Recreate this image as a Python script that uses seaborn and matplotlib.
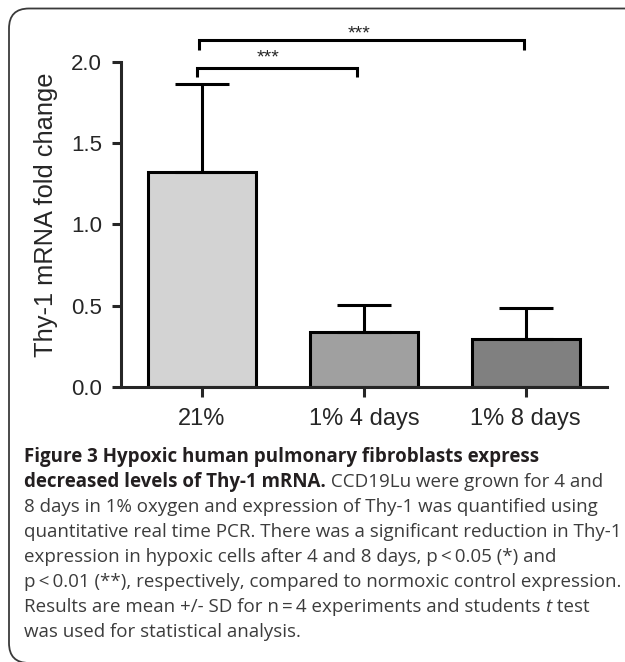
import matplotlib
matplotlib.use("Agg")
import matplotlib.pyplot as plt
import pandas as pd
import seaborn as sns
from matplotlib.path import Path
from matplotlib.patches import PathPatch

# values
groups = ["21%", "1% 4 days", "1% 8 days"]
means = [1.326, 0.337, 0.296]
sds = [0.542, 0.168, 0.187]
bar_colors = ["#d3d3d3", "#a0a0a0", "#808080"]
yticks = [0.0, 0.5, 1.0, 1.5, 2.0]
comparisons = [("21%", "1% 4 days"), ("21%", "1% 8 days")]
stars = ["***", "***"]

caption = [
    [("Figure 3 Hypoxic human pulmonary fibroblasts express", "b")],
    [("decreased levels of Thy-1 mRNA.", "b"), (" CCD19Lu were grown for 4 and", "r")],
    [("8 days in 1% oxygen and expression of Thy-1 was quantified using", "r")],
    [("quantitative real time PCR. There was a significant reduction in Thy-1", "r")],
    [("expression in hypoxic cells after 4 and 8 days, p\u2009<\u20090.05 (*) and", "r")],
    [("p\u2009<\u20090.01 (**), respectively, compared to normoxic control expression.", "r")],
    [("Results are mean +/- SD for n\u2009=\u20094 experiments and students ", "r"), ("t", "i"), (" test", "r")],
    [("was used for statistical analysis.", "r")],
]

sns.set_style("ticks")
plt.rcParams["font.family"] = ["Liberation Sans", "DejaVu Sans"]

W, H = 625, 662
fig = plt.figure(figsize=(W / 100, H / 100), dpi=100)
ax = fig.add_axes([121 / W, 1 - 386.7 / H, (606.7 - 121) / W, (386.7 - 62.3) / H])

df = pd.DataFrame({"group": groups, "mean": means})
sns.barplot(data=df, x="group", y="mean", hue="group", palette=bar_colors,
            width=0.666, edgecolor="black", linewidth=2.2, errorbar=None,
            legend=False, ax=ax)
ax.errorbar(range(len(groups)), means, yerr=[[0] * len(groups), sds], fmt="none",
            ecolor="black", elinewidth=2.2, capsize=19.4, capthick=2.2)

ax.set_xlim(-0.5, 2.5)
ax.set_ylim(0, 2.0)
ax.set_yticks(yticks)
ax.set_yticklabels([f"{v:.1f}" for v in yticks])
sns.despine(ax=ax)
for s in ["left", "bottom"]:
    ax.spines[s].set_linewidth(2.2)
ax.tick_params(axis="y", length=6.5, width=2.2, pad=7, labelsize=16)
ax.tick_params(axis="x", length=7, width=2.2, pad=8, labelsize=17)
ax.set_xlabel("")
ax.set_ylabel("Thy-1 mRNA fold change", fontsize=18.3)
ax.yaxis.set_label_coords(-0.13, 0.53)

# significance brackets
levels = [(1.908, 1.963, 1.998), (2.075, 2.137, 2.146)]
offsets = [(-0.03, -0.04, 0.41), (-0.02, -0.01, 0.97)]
for (a, b), lab, (y0, y1, ys), (dl, dr, xs) in zip(comparisons, stars, levels, offsets):
    xa = groups.index(a) + dl
    xb = groups.index(b) + dr
    ax.plot([xa, xa, xb, xb], [y0, y1, y1, y0], color="black", lw=2.2,
            clip_on=False, solid_joinstyle="miter", solid_capstyle="butt")
    ax.text(xs, ys, lab, ha="center", va="baseline", fontsize=14, clip_on=False)

# rounded frame: only top, left and the bottom-left corner fall inside the picture
r, x0, top, bot = 20, 9, 8.5, 663
pts = [(W + 20, top), (x0 + r, top), (x0, top), (x0, top + r),
       (x0, bot - r), (x0, bot), (x0 + r, bot), (W + 20, bot)]
codes = [Path.MOVETO, Path.LINETO, Path.CURVE3, Path.CURVE3,
         Path.LINETO, Path.CURVE3, Path.CURVE3, Path.LINETO]
frame_path = Path([(px / W, 1 - py / H) for px, py in pts], codes)
fig.patches.append(PathPatch(frame_path, transform=fig.transFigure, fill=False,
                             edgecolor="#3a3a3a", lw=1.3))

# caption
styles = {
    "b": dict(family="Open Sans", fontweight="bold", color="#231f20"),
    "r": dict(family="Open Sans", color="#3c3c3c"),
    "i": dict(family="Open Sans", style="italic", color="#3c3c3c"),
}
renderer = fig.canvas.get_renderer()
for i, line in enumerate(caption):
    x = 24
    y = 461.7 + 25 * i
    for txt, st in line:
        t = fig.text(x / W, 1 - y / H, txt, fontsize=13.5, va="baseline", ha="left", **styles[st])
        x = t.get_window_extent(renderer).x1

fig.savefig("out.png", dpi=100)
